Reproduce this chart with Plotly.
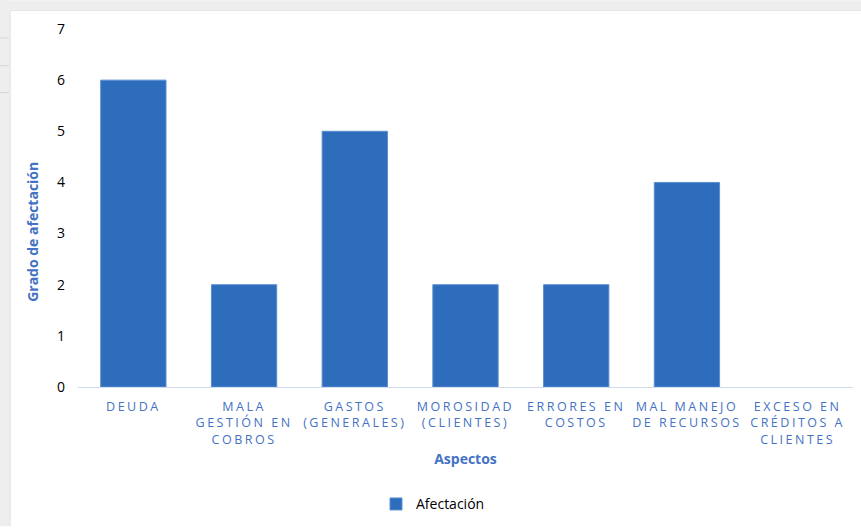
import plotly.graph_objects as go

categories = [
    "DEUDA",
    "MALA<br>GESTIÓN EN<br>COBROS",
    "GASTOS<br>(GENERALES)",
    "MOROSIDAD<br>(CLIENTES)",
    "ERRORES EN<br>COSTOS",
    "MAL MANEJO<br>DE RECURSOS",
    "EXCESO EN<br>CRÉDITOS A<br>CLIENTES",
]
values = [6, 2, 5, 2, 2, 4, 0]
series_name = "Afectación"
y_title = "Grado de afectación"
x_title = "Aspectos"

BLUE = "#2E6DBB"
LABEL_BLUE = "#4472C4"
FONT = "Open Sans, Liberation Sans, Arial, sans-serif"

fig = go.Figure()
fig.add_trace(go.Bar(
    x=categories, y=values, name=series_name,
    marker=dict(color=BLUE, line=dict(color="#5B8FD0", width=[1 if v > 0 else 0 for v in values])),
))

W, H = 861, 529
L, R, T, B = 78, 8, 29, 140
pw, ph = W - L - R, H - T - B

def px_x(p):
    return (p - L) / pw

def px_y(p):
    return (H - B - p) / ph

shapes = [
    dict(type="rect", xref="paper", yref="paper", x0=px_x(0), x1=px_x(W), y0=px_y(0), y1=px_y(9),
         fillcolor="#EEEEEE", line_width=0, layer="below"),
    dict(type="line", xref="paper", yref="paper", x0=px_x(10), x1=px_x(W), y0=px_y(10), y1=px_y(10),
         line=dict(color="#D6D6D6", width=1)),
    dict(type="rect", xref="paper", yref="paper", x0=px_x(0), x1=px_x(9), y0=px_y(0), y1=px_y(H),
         fillcolor="#EEEEEE", line_width=0, layer="below"),
    dict(type="line", xref="paper", yref="paper", x0=px_x(10), x1=px_x(10), y0=px_y(10), y1=px_y(H),
         line=dict(color="#D6D6D6", width=1)),
]
for yy in [38, 66, 93]:
    shapes.append(dict(type="line", xref="paper", yref="paper", x0=px_x(0), x1=px_x(9),
                       y0=px_y(yy), y1=px_y(yy), line=dict(color="#D6D6D6", width=1)))

fig.update_layout(
    width=W, height=H,
    margin=dict(l=L, r=R, t=T, b=B),
    paper_bgcolor="white", plot_bgcolor="white",
    font=dict(family=FONT, color="black"),
    bargap=0.41,
    showlegend=True,
    legend=dict(orientation="h", x=px_x(433), xanchor="center", y=px_y(507), yanchor="middle",
                itemwidth=30,
                font=dict(size=14, color="black", family=FONT)),
    xaxis=dict(
        showline=True, linecolor="#D0DBEE", linewidth=1,
        showgrid=False, ticks="", tickangle=0,
        ticklabelstandoff=8,
        tickfont=dict(size=12.5, color=LABEL_BLUE, family=FONT),
        title=dict(text="<b>" + x_title + "</b>", font=dict(size=14, color=LABEL_BLUE, family=FONT), standoff=7),
        automargin=False,
    ),
    yaxis=dict(
        range=[0, 7], dtick=1, showgrid=False, showline=False, zeroline=False,
        tickfont=dict(size=14, color="black", family=FONT),
        ticklabelstandoff=12,
        automargin=False,
    ),
    annotations=[dict(
        text="<b>" + y_title + "</b>", xref="paper", yref="paper",
        x=px_x(33), y=px_y(233), xanchor="center", yanchor="middle",
        textangle=-90, showarrow=False,
        font=dict(size=14, color=LABEL_BLUE, family=FONT),
    )],
    shapes=shapes,
)

post = """
var gd = document.getElementById('{plot_id}');
function spacing(){
  gd.querySelectorAll('.xtick text').forEach(function(t){ t.style.letterSpacing='2.5px'; });
}
spacing();
gd.on('plotly_afterplot', spacing);
"""
fig.write_html("out.html", post_script=post)
